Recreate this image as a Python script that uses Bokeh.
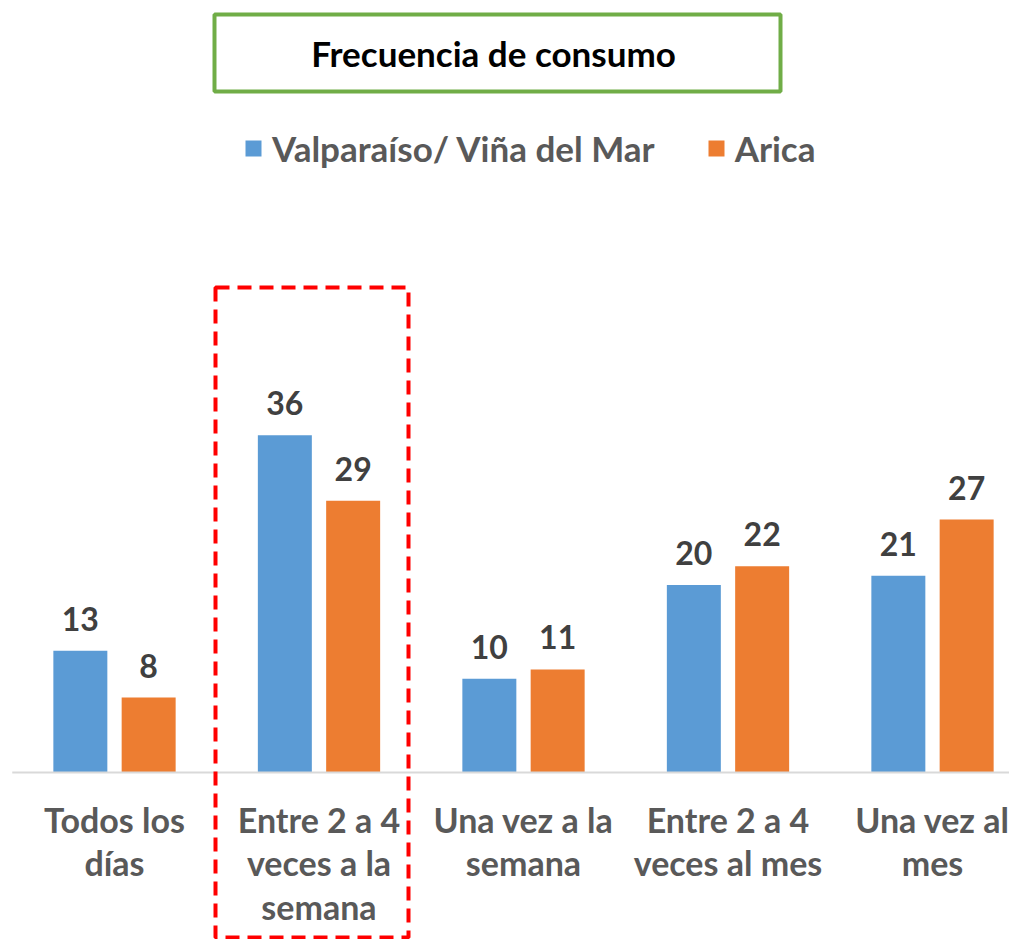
from bokeh.plotting import figure
from bokeh.models import Range1d, Legend, LegendItem, ColumnDataSource
from bokeh.transform import dodge
from bokeh.core.properties import value
from bokeh.embed import file_html
from bokeh.resources import INLINE

# ---- data ----
categories = ["Todos los\ndías", "Entre 2 a 4\nveces a la\nsemana", "Una vez a la\nsemana",
              "Entre 2 a 4\nveces al mes", "Una vez al\nmes"]
series_names = ["Valparaíso/ Viña del Mar", "Arica"]
valparaiso = [13, 36, 10, 20, 21]
arica = [8, 29, 11, 22, 27]
title_text = "Frecuencia de consumo"
highlight_index = 1

# ---- styles / layout ----
FONT = "Lato"
BLUE = "#5b9bd5"
ORANGE = "#ed7d31"
W, H = 1009, 939
PX_PER_CAT = 204.5
PX_PER_UNIT = 9.37
BASE_PX = 772          # y pixel of the zero line
X0 = -114 / PX_PER_CAT
X1 = X0 + W / PX_PER_CAT
Y_TOP = BASE_PX / PX_PER_UNIT
Y_BOT = (BASE_PX - H) / PX_PER_UNIT


def X(px):
    return X0 + px / PX_PER_CAT


def Y(py):
    return (BASE_PX - py) / PX_PER_UNIT


idx = list(range(len(categories)))
gap = 32 / PX_PER_UNIT
src = ColumnDataSource(dict(
    x=idx, cat=categories,
    v1=valparaiso, v2=arica,
    t1=[str(v) for v in valparaiso], t2=[str(v) for v in arica],
    y1=[v + gap for v in valparaiso], y2=[v + gap for v in arica],
))

p = figure(width=W, height=H, x_range=Range1d(X0, X1), y_range=Range1d(Y_BOT, Y_TOP),
           output_backend="svg", toolbar_location=None,
           x_axis_location=None, y_axis_location=None,
           min_border=0, min_border_left=0, min_border_right=0,
           min_border_top=0, min_border_bottom=0, outline_line_color=None)
p.xgrid.visible = False
p.ygrid.visible = False

OFF = 0.167
BW = 0.264
r1 = p.vbar(x=dodge("x", -OFF, range=p.x_range), top="v1", bottom=0, width=BW, source=src,
            fill_color=BLUE, line_color=None)
r2 = p.vbar(x=dodge("x", OFF, range=p.x_range), top="v2", bottom=0, width=BW, source=src,
            fill_color=ORANGE, line_color=None)

# zero line
p.segment(x0=[-0.5], y0=[0], x1=[X1], y1=[0], line_color="#d9d9d9", line_width=2)

base = dict(text_font=value(FONT), text_font_style="bold", text_align="center")
p.text(x=dodge("x", -OFF, range=p.x_range), y="y1", text="t1", source=src,
       text_baseline="alphabetic", text_color="#404040", text_font_size="32px", **base)
p.text(x=dodge("x", OFF, range=p.x_range), y="y2", text="t2", source=src,
       text_baseline="alphabetic", text_color="#404040", text_font_size="32px", **base)

# category labels
p.text(x="x", y=Y(798), text="cat", source=src, text_baseline="top",
       text_line_height=1.07, text_color="#595959", text_font_size="34px", **base)

# highlight box
hi = highlight_index
p.quad(left=[hi + X(215) - X(318.5)], right=[hi + X(408) - X(318.5)],
       top=[Y(287)], bottom=[Y(937)], fill_color=None, line_color="#ff0000",
       line_width=4, line_dash="14 8")

# title box
p.quad(left=[X(214)], right=[X(780)], top=[Y(14)], bottom=[Y(91)],
       fill_color=None, line_color="#70ad47", line_width=4)
p.text(x=[X(493)], y=[Y(52)], text=[title_text], text_baseline="middle",
       text_color="#000000", text_font_size="35px", **base)

legend = Legend(items=[LegendItem(label=series_names[0], renderers=[r1]),
                       LegendItem(label=series_names[1], renderers=[r2])],
                orientation="horizontal", location=(243, 770),
                glyph_width=20, glyph_height=20, label_standoff=9, spacing=51,
                padding=0, margin=0, border_line_color=None, background_fill_alpha=0,
                label_text_font=FONT, label_text_font_size="35px",
                label_text_font_style="bold", label_text_color="#595959")
p.add_layout(legend)

open("out.html", "w").write(file_html(p, INLINE))
